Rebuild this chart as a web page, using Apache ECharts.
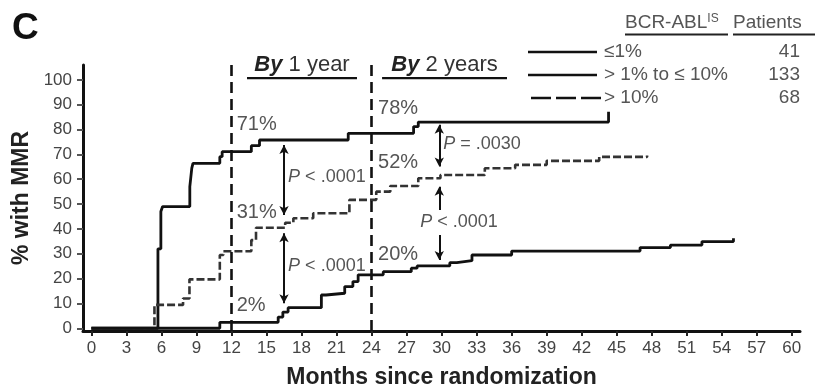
<!DOCTYPE html>
<html>
<head>
<meta charset="utf-8">
<script src="https://cdn.jsdelivr.net/npm/echarts@6/dist/echarts.min.js"></script>
<style>
html,body{margin:0;padding:0;background:#fff;}
#c{width:815px;height:387px;}
</style>
</head>
<body>
<div id="c"></div>
<script>
// ---- data ----
const xTicks = [0,3,6,9,12,15,18,21,24,27,30,33,36,39,42,45,48,51,54,57,60];
const yTicks = [0,10,20,30,40,50,60,70,80,90,100];
const seriesNames = ['≤1%', '> 1% to ≤ 10%', '> 10%'];
const patients = ['41', '133', '68'];
// Kaplan-Meier style step curves: [month, % with MMR]
const lowCurve = [[0,0],[5.7,32],[5.95,47],[6.1,49],[8.43,57],[8.6,64.5],[8.7,66.4],[11.0,69.1],[11.2,71.1],[13.7,73.5],[14.4,75.8],[22.0,78.5],[27.6,81.2],[28.0,83],[44.3,87.2]];
const midCurve = [[0,0],[5.4,9.4],[7.85,12],[8.4,19.7],[11.0,29.5],[11.3,31],[13.7,35.5],[14.1,40.5],[16.6,42.5],[17.3,44.3],[19.0,46.3],[22.1,51.7],[24.4,55],[25.6,57.3],[28.0,60.4],[29.9,61.7],[33.7,64.4],[36.3,65.8],[39.0,67.4],[43.5,69],[47.6,69.6]];
const highCurve = [[0,0],[11.0,2.4],[16.0,4.5],[16.4,6.5],[16.85,8.3],[19.7,13.4],[20.1,14.1],[21.7,16.8],[22.4,18.8],[22.85,21.5],[25.0,22.8],[27.4,24.2],[27.9,25.1],[30.7,26.4],[31.3,27.2],[32.6,29.5],[36.0,31.1],[47.0,32.5],[49.6,33.5],[52.3,34.9],[55.0,36.2]];
const milestones = [12, 24];
// arrows between curves: [month, from %, to %, head at start, head at end]
const arrows = [[16.5,73.8,45.6,1,1],[16.5,38.3,10.1,1,1],[29.8,81.9,65.1,1,1],[29.8,57,47.6,1,0],[29.8,37.6,27.5,0,1]];
// annotation texts: [text, month, %]
const pctLabels = [['71%',12.45,81.9],['31%',12.45,46.8],['2%',12.45,9.0],['78%',24.56,88.3],['52%',24.56,66.8],['20%',24.56,29.9]];
const pLabels = [['<', '.0001',16.85,60.9],['<', '.0001',16.85,25.1],['=', '.0030',30.13,74.2],['<', '.0001',28.16,42.8]];
const periods = [['1 year',13.33,22.75],['2 years',24.9,35.6]];

const FONT = '"Liberation Sans", Arial, Helvetica, sans-serif';
const chart = echarts.init(document.getElementById('c'));

const arrowLines = arrows.map(a => [
  {coord:[a[0],a[1]],symbol:a[3]?'arrow':'none'},
  {coord:[a[0],a[2]],symbol:a[4]?'arrow':'none'}]);
const msLines = milestones.map(m => [{coord:[m,-1.1]},{coord:[m,106]}]);

chart.setOption({
  animation:false,
  backgroundColor:'#fff',
  grid:{left:83,right:15,top:65,bottom:56,containLabel:false,outerBoundsMode:'none'},
  xAxis:{
    type:'value', min:-0.72, max:60.7,
    name:'Months since randomization', nameLocation:'middle', nameGap:35,
    nameTextStyle:{fontFamily:FONT,fontSize:23,fontWeight:'bold',color:'#222'},
    axisLine:{onZero:false,lineStyle:{color:'#111',width:3}},
    axisTick:{customValues:xTicks,length:5,lineStyle:{color:'#222',width:2}},
    axisLabel:{customValues:xTicks,fontFamily:FONT,fontSize:17,color:'#444',margin:9},
    splitLine:{show:false}
  },
  yAxis:{
    type:'value', min:-1.1, max:106,
    name:'% with MMR', nameLocation:'middle', nameGap:43, nameRotate:90,
    nameTextStyle:{fontFamily:FONT,fontSize:23,fontWeight:'bold',color:'#222'},
    axisLine:{onZero:false,lineStyle:{color:'#111',width:3}},
    axisTick:{customValues:yTicks,length:6,lineStyle:{color:'#555',width:2}},
    axisLabel:{customValues:yTicks,fontFamily:FONT,fontSize:17,color:'#444',margin:11},
    splitLine:{show:false}
  },
  series:[
    {name:seriesNames[0],type:'line',step:'end',data:lowCurve,symbol:'none',clip:false,lineStyle:{color:'#111',width:2.8},
      markLine:{silent:true,symbol:['none','none'],label:{show:false},
        lineStyle:{color:'#111',width:2.6,type:[11,6]},data:msLines}},
    {name:seriesNames[1],type:'line',step:'end',data:midCurve,symbol:'none',lineStyle:{color:'#333',width:2.6,type:[8,3]}},
    {name:seriesNames[2],type:'line',step:'end',data:highCurve,symbol:'none',clip:false,lineStyle:{color:'#111',width:2.8},
      markLine:{silent:true,symbol:['arrow','arrow'],symbolSize:[7,9],label:{show:false},
        lineStyle:{color:'#111',width:2,type:'solid'},data:arrowLines}}
  ]
});

// ---- annotations & legend (graphic) ----
const g = [];
g.push({type:'text',left:12,top:10,style:{text:'C',font:'bold 37px '+FONT,fill:'#111'}});
pctLabels.forEach(p => {
  const pt = chart.convertToPixel({gridIndex:0},[p[1],p[2]]);
  g.push({type:'text',x:pt[0],y:pt[1],style:{text:p[0],font:'20px '+FONT,fill:'#555',textAlign:'left',textVerticalAlign:'middle'}});
});
pLabels.forEach(p => {
  const pt = chart.convertToPixel({gridIndex:0},[p[2],p[3]]);
  g.push({type:'text',x:pt[0],y:pt[1],style:{
    text:'{i|P} '+p[0]+' '+p[1],
    rich:{i:{font:'italic 18px '+FONT,fill:'#555'}},
    font:'18px '+FONT,fill:'#555',textAlign:'left',textVerticalAlign:'middle'}});
});
periods.forEach((p,k) => {
  const a = chart.convertToPixel({gridIndex:0},[p[1],100.7]);
  const b = chart.convertToPixel({gridIndex:0},[p[2],100.7]);
  g.push({type:'text',x:(a[0]+b[0])/2,y:a[1]-2,style:{
    text:'{b|By} '+p[0],
    rich:{b:{font:'italic bold 22px '+FONT,fill:'#222'}},
    font:'22px '+FONT,fill:'#333',textAlign:'center',textVerticalAlign:'bottom'}});
  g.push({type:'line',shape:{x1:a[0],y1:a[1],x2:b[0],y2:b[1]},style:{stroke:'#111',lineWidth:2.2}});
});
// legend
const legY = [52,75,98];
g.push({type:'text',x:625,y:23,style:{text:'BCR-ABL{s|IS}',rich:{s:{font:'12px '+FONT,fill:'#555',verticalAlign:'top',padding:[0,0,8,0]}},font:'19px '+FONT,fill:'#555',textAlign:'left',textVerticalAlign:'middle'}});
g.push({type:'line',shape:{x1:625,y1:34.5,x2:728,y2:34.5},style:{stroke:'#222',lineWidth:2}});
g.push({type:'text',x:733,y:23,style:{text:'Patients',font:'19px '+FONT,fill:'#555',textAlign:'left',textVerticalAlign:'middle'}});
g.push({type:'line',shape:{x1:733,y1:34.5,x2:815,y2:34.5},style:{stroke:'#222',lineWidth:2}});
seriesNames.forEach((n,k) => {
  const dashed = k===2;
  g.push({type:'line',shape:{x1:dashed?531:528,y1:legY[k],x2:dashed?605:597,y2:legY[k]},
    style:{stroke:'#111',lineWidth:2.6,lineDash:dashed?[20,5]:null}});
  g.push({type:'text',x:604,y:legY[k],style:{text:n,font:'19px '+FONT,fill:'#555',textAlign:'left',textVerticalAlign:'middle'}});
  g.push({type:'text',x:800,y:legY[k],style:{text:patients[k],font:'19px '+FONT,fill:'#555',textAlign:'right',textVerticalAlign:'middle'}});
});
chart.setOption({graphic:g});
</script>
</body>
</html>
